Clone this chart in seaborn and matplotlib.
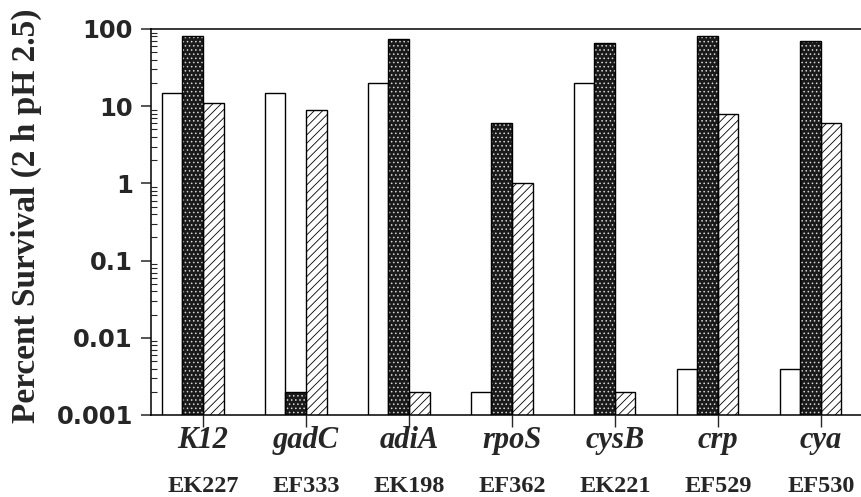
import matplotlib
matplotlib.use("Agg")
import matplotlib.pyplot as plt
import seaborn as sns
import pandas as pd
import numpy as np
from matplotlib.ticker import FixedLocator, FixedFormatter, LogLocator, NullFormatter

genes = ["K12", "gadC", "adiA", "rpoS", "cysB", "crp", "cya"]
strains = ["EK227", "EF333", "EK198", "EF362", "EK221", "EF529", "EF530"]
series_open = [15, 15, 20, 0.002, 20, 0.004, 0.004]
series_dark = [80, 0.002, 75, 6, 65, 80, 70]
series_hatch = [11, 9, 0.002, 1, 0.002, 8, 6]
series_names = ["open", "dark", "hatched", "unused"]
ytick_vals = [0.001, 0.01, 0.1, 1, 10, 100]
ytick_labels = ["0.001", "0.01", "0.1", "1", "10", "100"]

rows = []
for g, a, b, c in zip(genes, series_open, series_dark, series_hatch):
    rows.append((g, "open", a))
    rows.append((g, "dark", b))
    rows.append((g, "hatched", c))
df = pd.DataFrame(rows, columns=["gene", "series", "value"])

sns.set_style("white")
plt.rcParams["font.family"] = ["DejaVu Sans"]
plt.rcParams["hatch.linewidth"] = 0.6

fig = plt.figure(figsize=(8.62, 4.97), dpi=100)
ax = fig.add_axes([0.1752, 0.165, 0.8248, 0.7767])
ax.set_yscale("log")

pal = {"open": "white", "dark": "#1a1a1a", "hatched": "white", "unused": "white"}
sns.barplot(data=df, x="gene", y="value", hue="series", order=genes,
            hue_order=series_names, palette=pal, width=0.8, dodge=True,
            linewidth=0, legend=False, ax=ax, errorbar=None, saturation=1)

for cont, name in zip(ax.containers, series_names):
    for p in cont.patches:
        if name == "dark":
            p.set_hatch("....")
            p.set_edgecolor("#d8d8d8")
            p.set_linewidth(0)
        elif name == "hatched":
            p.set_hatch("////")
            p.set_edgecolor("black")
            p.set_linewidth(0)

pal2 = {k: "black" for k in series_names}
sns.barplot(data=df, x="gene", y="value", hue="series", order=genes,
            hue_order=series_names, palette=pal2, width=0.8, dodge=True,
            fill=False, linewidth=1.0, legend=False, ax=ax, errorbar=None)

ax.set_ylim(0.001, 100)
ax.set_xlim(-0.505, 6.4)

ax.yaxis.set_major_locator(FixedLocator(ytick_vals))
ax.yaxis.set_major_formatter(FixedFormatter(ytick_labels))
ax.yaxis.set_minor_locator(LogLocator(base=10, subs=np.arange(2, 10), numticks=20))
ax.yaxis.set_minor_formatter(NullFormatter())
ax.tick_params(axis="y", which="major", direction="out", length=7, width=1.1,
               pad=6, labelsize=17.5, left=True)
ax.tick_params(axis="y", which="minor", direction="in", length=4.5, width=0.8, left=True)
for lab in ax.get_yticklabels():
    lab.set_fontweight("bold")
    lab.set_family(["DejaVu Sans"])

ax.tick_params(axis="x", which="major", direction="out", length=8.6, width=1.0,
               bottom=True, labelbottom=False)
ax.set_xlabel("")

ax.set_ylabel("Percent Survival (2 h pH 2.5)", fontsize=24, fontweight="bold",
              family=["Liberation Serif", "DejaVu Serif"])
ax.yaxis.set_label_coords(-0.153, 0.516)

trans = ax.get_xaxis_transform()
for i, (g, s) in enumerate(zip(genes, strains)):
    ax.text(i, -0.067, g, transform=trans, ha="center", va="center",
            fontsize=22, fontweight="bold", fontstyle="italic",
            family=["Liberation Serif", "DejaVu Serif"])
    ax.text(i, -0.185, s, transform=trans, ha="center", va="center",
            fontsize=17.5, fontweight="bold",
            family=["Liberation Serif", "DejaVu Serif"])

for side in ["left", "top", "bottom"]:
    ax.spines[side].set_visible(True)
    ax.spines[side].set_color("black")
    ax.spines[side].set_linewidth(1.1)
ax.spines["right"].set_visible(False)
ax.grid(False)

fig.savefig("out.png", dpi=100)
